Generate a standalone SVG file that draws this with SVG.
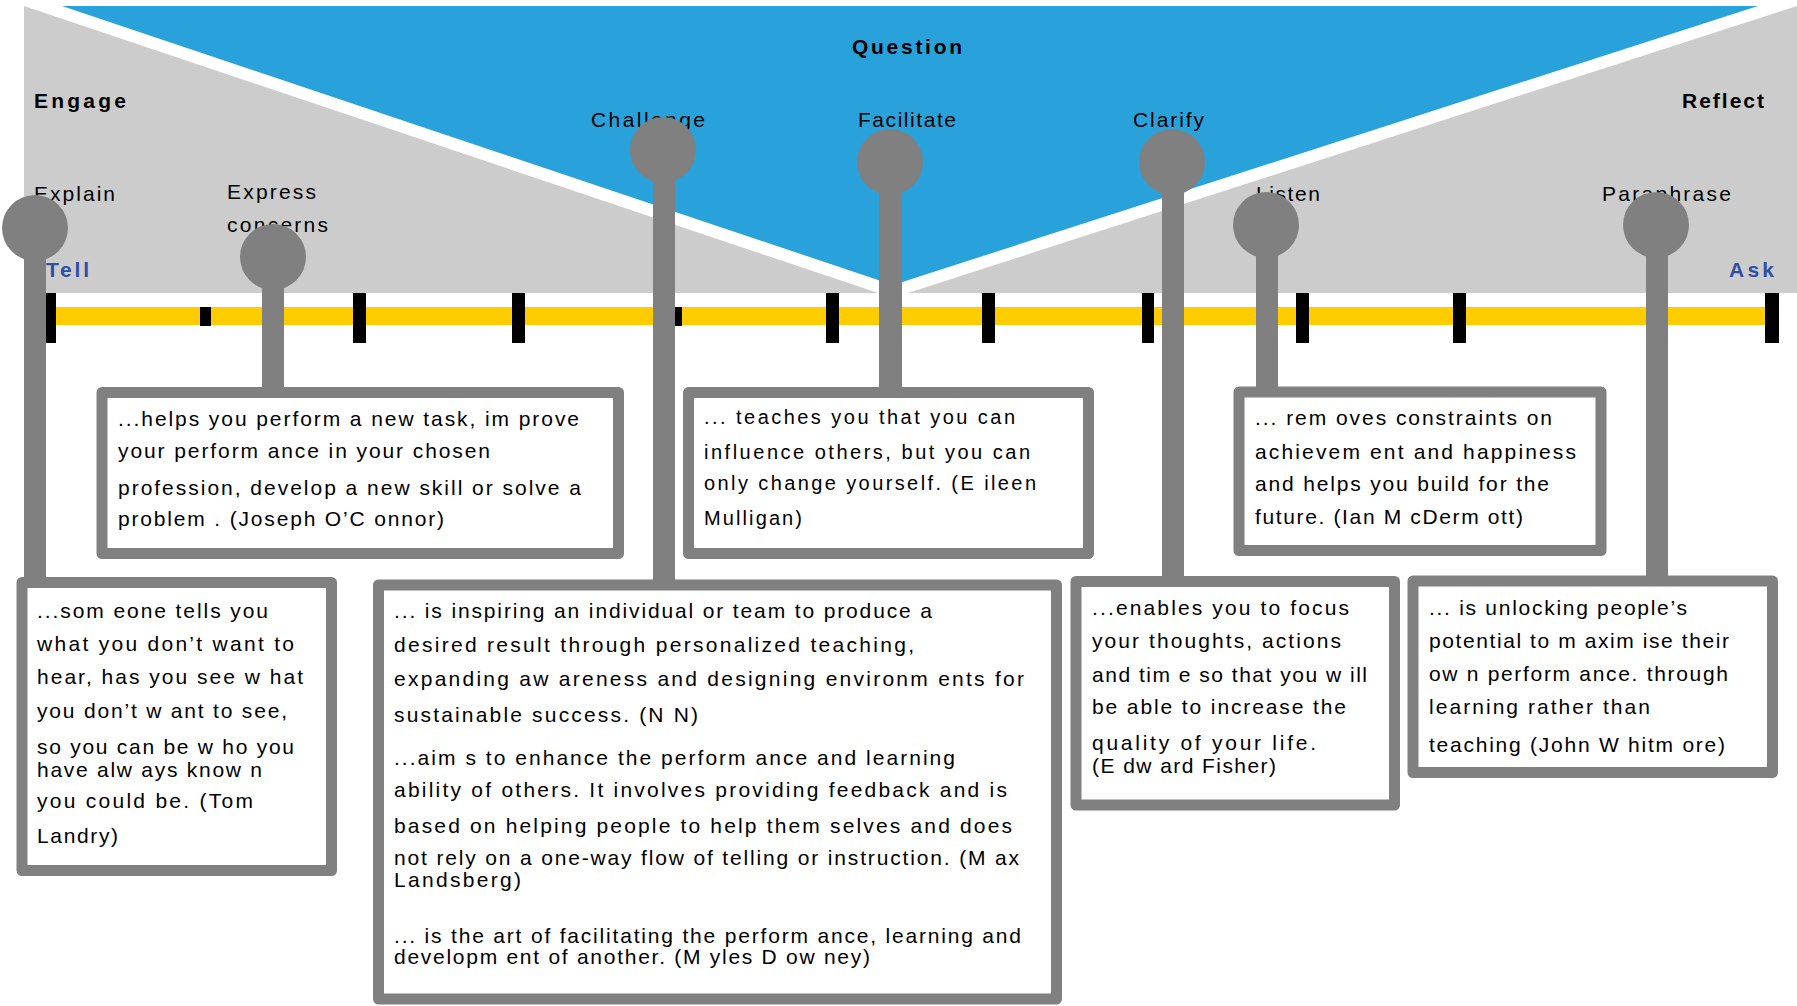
<svg xmlns="http://www.w3.org/2000/svg" width="1797" height="1006" viewBox="0 0 1797 1006">
  <style>
    .zone-gray { fill: #cccccc; }
    .zone-blue { fill: #29a2db; }
    .lbl { font-family: "Liberation Sans", Arial, sans-serif; font-size: 21px; fill: #000; }
    .bold { font-weight: bold; }
    .end { font-family: "Liberation Sans", Arial, sans-serif; font-size: 21px; font-weight: bold; fill: #2f4fa6; }
    .rail { fill: #ffcc00; }
    .tick { fill: #000; }
    .pole { fill: #808080; }
    .head { fill: #808080; }
    .frame { fill: #ffffff; stroke: #808080; stroke-width: 11; stroke-linejoin: round; }
    .txt { font-family: "Liberation Sans", Arial, sans-serif; font-size: 21px; fill: #000; }
    .txt-s { font-family: "Liberation Sans", Arial, sans-serif; font-size: 20px; fill: #000; }
  </style>

  <!-- background zones: Engage (left), Question (centre), Reflect (right) -->
  <g id="zones">
    <polygon class="zone-gray" points="24,6 24,293 878,293"/>
    <polygon class="zone-blue" points="62,6 1758,6 893,285"/>
    <polygon class="zone-gray" points="1797,6 1797,293 908,293"/>
  </g>

  <!-- zone and step labels -->
  <g id="labels">
    <text class="lbl bold" x="852" y="54" textLength="110" lengthAdjust="spacing">Question</text>
    <text class="lbl bold" x="34" y="108" textLength="92" lengthAdjust="spacing">Engage</text>
    <text class="lbl bold" x="1682" y="108" textLength="82" lengthAdjust="spacing">Reflect</text>
    <text class="lbl" x="591" y="127" textLength="114" lengthAdjust="spacing">Challenge</text>
    <text class="lbl" x="858" y="127" textLength="98" lengthAdjust="spacing">Facilitate</text>
    <text class="lbl" x="1133" y="127" textLength="71" lengthAdjust="spacing">Clarify</text>
    <text class="lbl" x="34" y="201" textLength="81" lengthAdjust="spacing">Explain</text>
    <text class="lbl" x="227" y="199" textLength="89" lengthAdjust="spacing">Express</text>
    <text class="lbl" x="227" y="232" textLength="101" lengthAdjust="spacing">concerns</text>
    <text class="lbl" x="1256" y="201" textLength="64" lengthAdjust="spacing">Listen</text>
    <text class="lbl" x="1602" y="201" textLength="129" lengthAdjust="spacing">Paraphrase</text>
    <text class="end" x="46" y="277" textLength="43" lengthAdjust="spacing">Tell</text>
    <text class="end" x="1729" y="277" textLength="45" lengthAdjust="spacing">Ask</text>
  </g>

  <!-- Tell ... Ask scale -->
  <g id="timeline">
    <rect class="rail" x="55" y="307" width="1711" height="18"/>
    <rect class="tick" x="44" y="293" width="12" height="50"/>
    <rect class="tick" x="200" y="307" width="11" height="19"/>
    <rect class="tick" x="353" y="293" width="13" height="50"/>
    <rect class="tick" x="512" y="293" width="13" height="50"/>
    <rect class="tick" x="671" y="307" width="11" height="19"/>
    <rect class="tick" x="826" y="293" width="13" height="50"/>
    <rect class="tick" x="982" y="293" width="13" height="50"/>
    <rect class="tick" x="1142" y="293" width="12" height="50"/>
    <rect class="tick" x="1296" y="293" width="13" height="50"/>
    <rect class="tick" x="1453" y="293" width="13" height="50"/>
    <rect class="tick" x="1765" y="293" width="14" height="50"/>
  </g>

  <!-- pins linking each step to its quote -->
  <g id="connectors">
    <rect class="pole" x="24" y="228" width="22" height="352"/>
    <circle class="head" cx="35" cy="228" r="33"/>
    <rect class="pole" x="262" y="257" width="22" height="133"/>
    <circle class="head" cx="273" cy="257" r="33"/>
    <rect class="pole" x="653" y="150" width="22" height="433"/>
    <circle class="head" cx="663" cy="150" r="33"/>
    <rect class="pole" x="879" y="162" width="23" height="228"/>
    <circle class="head" cx="890" cy="162" r="33"/>
    <rect class="pole" x="1162" y="162" width="22" height="417"/>
    <circle class="head" cx="1172" cy="162" r="33"/>
    <rect class="pole" x="1256" y="225" width="22" height="165"/>
    <circle class="head" cx="1266" cy="225" r="33"/>
    <rect class="pole" x="1646" y="225" width="22" height="353"/>
    <circle class="head" cx="1656" cy="225" r="33"/>
  </g>

  <!-- quote boxes -->
  <g id="box-explain">
    <rect class="frame" x="22" y="582.5" width="309.5" height="288"/>
    <text class="txt" x="37" y="618" textLength="231" lengthAdjust="spacing">...som eone tells you</text>
    <text class="txt" x="37" y="651" textLength="257" lengthAdjust="spacing">what you don’t want to</text>
    <text class="txt" x="37" y="684" textLength="266" lengthAdjust="spacing">hear, has you see w hat</text>
    <text class="txt" x="37" y="718" textLength="250" lengthAdjust="spacing">you don’t w ant to see,</text>
    <text class="txt" x="37" y="754" textLength="257" lengthAdjust="spacing">so you can be w ho you</text>
    <text class="txt" x="37" y="777" textLength="225" lengthAdjust="spacing">have alw ays know n</text>
    <text class="txt" x="37" y="808" textLength="216" lengthAdjust="spacing">you could be. (Tom</text>
    <text class="txt" x="37" y="843" textLength="81" lengthAdjust="spacing">Landry)</text>
  </g>

  <g id="box-express">
    <rect class="frame" x="102" y="392.5" width="516.5" height="161"/>
    <text class="txt" x="118" y="426" textLength="461" lengthAdjust="spacing">...helps you perform a new task, im prove</text>
    <text class="txt" x="118" y="458" textLength="372" lengthAdjust="spacing">your perform ance in your chosen</text>
    <text class="txt" x="118" y="495" textLength="463" lengthAdjust="spacing">profession, develop a new skill or solve a</text>
    <text class="txt" x="118" y="526" textLength="326" lengthAdjust="spacing">problem . (Joseph O’C onnor)</text>
  </g>

  <g id="box-challenge">
    <rect class="frame" x="378.5" y="585" width="678" height="414"/>
    <text class="txt" x="394" y="618" textLength="538" lengthAdjust="spacing">... is inspiring an individual or team to produce a</text>
    <text class="txt" x="394" y="652" textLength="520" lengthAdjust="spacing">desired result through personalized  teaching,</text>
    <text class="txt" x="394" y="686" textLength="630" lengthAdjust="spacing">expanding aw areness and designing environm ents for</text>
    <text class="txt" x="394" y="722" textLength="304" lengthAdjust="spacing">sustainable success. (N N)</text>
    <text class="txt" x="394" y="765" textLength="561" lengthAdjust="spacing">...aim s to enhance the perform ance and learning</text>
    <text class="txt" x="394" y="797" textLength="613" lengthAdjust="spacing">ability of others. It involves providing feedback and is</text>
    <text class="txt" x="394" y="833" textLength="618" lengthAdjust="spacing">based on helping people to help them selves and does</text>
    <text class="txt" x="394" y="865" textLength="625" lengthAdjust="spacing">not rely on a one-way flow of telling or instruction. (M ax</text>
    <text class="txt" x="394" y="887" textLength="127" lengthAdjust="spacing">Landsberg)</text>
    <text class="txt" x="394" y="943" textLength="627" lengthAdjust="spacing">... is the art of facilitating the perform ance, learning and</text>
    <text class="txt" x="394" y="964" textLength="476" lengthAdjust="spacing">developm ent of another. (M yles D ow ney)</text>
  </g>

  <g id="box-facilitate">
    <rect class="frame" x="688.5" y="392.5" width="400" height="161"/>
    <text class="txt-s" x="704" y="424" textLength="311" lengthAdjust="spacing">... teaches you that you can</text>
    <text class="txt-s" x="704" y="459" textLength="326" lengthAdjust="spacing">influence others, but you can</text>
    <text class="txt-s" x="704" y="490" textLength="332" lengthAdjust="spacing">only change yourself. (E ileen</text>
    <text class="txt-s" x="704" y="525" textLength="98" lengthAdjust="spacing">Mulligan)</text>
  </g>

  <g id="box-clarify">
    <rect class="frame" x="1076" y="581.5" width="318.5" height="223.5"/>
    <text class="txt" x="1092" y="615" textLength="257" lengthAdjust="spacing">...enables you to focus</text>
    <text class="txt" x="1092" y="648" textLength="249" lengthAdjust="spacing">your thoughts, actions</text>
    <text class="txt" x="1092" y="682" textLength="275" lengthAdjust="spacing">and tim e so that you w ill</text>
    <text class="txt" x="1092" y="714" textLength="254" lengthAdjust="spacing">be able to increase the</text>
    <text class="txt" x="1092" y="750" textLength="224" lengthAdjust="spacing">quality of your  life.</text>
    <text class="txt" x="1092" y="773" textLength="184" lengthAdjust="spacing">(E dw ard Fisher)</text>
  </g>

  <g id="box-listen">
    <rect class="frame" x="1239" y="392" width="362" height="158.5"/>
    <text class="txt" x="1255" y="425" textLength="297" lengthAdjust="spacing">... rem oves constraints on</text>
    <text class="txt" x="1255" y="459" textLength="321" lengthAdjust="spacing">achievem ent and happiness</text>
    <text class="txt" x="1255" y="491" textLength="294" lengthAdjust="spacing">and helps you build for the</text>
    <text class="txt" x="1255" y="524" textLength="268" lengthAdjust="spacing">future. (Ian M cDerm ott)</text>
  </g>

  <g id="box-paraphrase">
    <rect class="frame" x="1413" y="581" width="359.5" height="191.5"/>
    <text class="txt" x="1429" y="615" textLength="258" lengthAdjust="spacing">... is unlocking people’s</text>
    <text class="txt" x="1429" y="648" textLength="300" lengthAdjust="spacing">potential to m axim ise their</text>
    <text class="txt" x="1429" y="681" textLength="299" lengthAdjust="spacing">ow n perform ance. through</text>
    <text class="txt" x="1429" y="714" textLength="221" lengthAdjust="spacing">learning rather than</text>
    <text class="txt" x="1429" y="752" textLength="296" lengthAdjust="spacing">teaching (John W hitm ore)</text>
  </g>
</svg>
